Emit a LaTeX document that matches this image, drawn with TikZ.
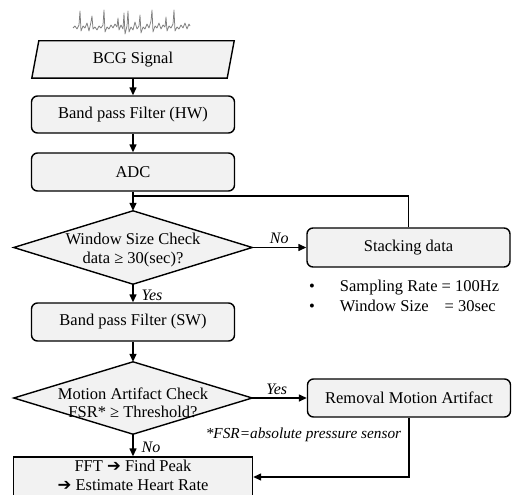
\documentclass[tikz,border=0pt]{standalone}
\usepackage{fontspec}
\setmainfont{Liberation Serif}
\newfontfamily\arrowfont{DejaVu Sans}
\usetikzlibrary{arrows.meta,backgrounds,calc}
\definecolor{boxgray}{HTML}{F2F2F2}
\definecolor{wavegray}{HTML}{7F7F7F}
\begin{document}
\begin{tikzpicture}[x=1pt,y=-1pt,
  every node/.style={font=\fontsize{16.5}{16}\selectfont},
  box/.style={draw=black, line width=1.4pt, fill=boxgray, rounded corners=6pt,
    minimum width=203pt, minimum height=38pt, inner sep=0pt},
  shapetext/.style={inner sep=0pt, align=center},
  dtext/.style={inner sep=0pt, align=center, font=\fontsize{16.5}{18.5}\selectfont},
  shapeline/.style={draw=black, line width=1.4pt, fill=boxgray, line join=miter},
  conn/.style={draw=black, line width=1.4pt},
  arr/.style={conn, -{Triangle[length=8pt,width=7pt]}},
  lbl/.style={font=\fontsize{16}{16}\selectfont\itshape, inner sep=0pt},
]
\clip (0,0) rectangle (514,495);

% waveform
\draw[wavegray, line width=0.75pt, line join=round]
 (73,28) -- (75,26) -- (77,29) -- (79,25) -- (80,11) -- (81,31) -- (83,26) -- (85,28) -- (87,23) -- (89,31) -- (91,22) -- (92,16) -- (93,29) -- (95,27) -- (97,30) -- (99,26) -- (101,28) -- (103,25) -- (104,10) -- (105,32) -- (107,27) -- (109,29) -- (111,25) -- (113,28) -- (115,24) -- (117,27) -- (118,18) -- (119,30) -- (121,25) -- (123,29) -- (124,13) -- (125,34) -- (127,26) -- (128,11) -- (129,32) -- (131,27) -- (133,30) -- (135,22) -- (137,29) -- (139,26) -- (140,15) -- (141,33) -- (143,27) -- (145,29) -- (147,24) -- (149,28) -- (151,21) -- (152,10) -- (153,32) -- (155,26) -- (157,28) -- (159,23) -- (161,29) -- (163,25) -- (165,27) -- (166,17) -- (167,31) -- (169,26) -- (171,28) -- (173,24) -- (174,10) -- (175,31) -- (177,27) -- (179,29) -- (181,25) -- (183,28) -- (185,23) -- (187,29) -- (189,24) -- (190,26);

% BCG signal (parallelogram)
\node[shapetext, minimum width=195pt, minimum height=37pt] (bcg) at (133,59.5) {BCG Signal};
\begin{scope}[on background layer]
\draw[shapeline] ([xshift=3.5pt]bcg.north west) -- ([xshift=3.5pt]bcg.north east)
  -- ([xshift=-3.5pt]bcg.south east) -- ([xshift=-3.5pt]bcg.south west) -- cycle;
\end{scope}

\node[box, minimum height=37pt] (hw) at (133,114.5) {Band pass Filter (HW)};
\node[box] (adc) at (133,172) {ADC};

% diamond 1
\node[inner sep=0pt, minimum width=238pt, minimum height=73pt] (d1) at (133,247.5) {};
\draw[shapeline] (d1.north) -- (d1.east) -- (d1.south) -- (d1.west) -- cycle;
\node[dtext] (d1t) at (133,250) {Window Size Check\\data ≥ 30(sec)?};

\node[box, minimum height=39pt] (stack) at (408.5,247.5) {Stacking data};

\node[anchor=west, inner sep=0pt] (notes) at (309,297)
  {\fontsize{16.5}{20}\selectfont\begin{tabular}{@{}l@{\hspace{25pt}}l@{}}
   •&Sampling Rate = 100Hz\\
   •&Window Size\hspace{16pt}= 30sec\end{tabular}};

\node[box] (sw) at (133,322) {Band pass Filter (SW)};

% diamond 2
\node[inner sep=0pt, minimum width=238pt, minimum height=72pt] (d2) at (133,398) {};
\draw[shapeline] (d2.north) -- (d2.east) -- (d2.south) -- (d2.west) -- cycle;
\node[dtext] (d2t) at (133,403) {Motion Artifact Check\\FSR* ≥ Threshold?};

\node[box] (rem) at (409,398) {Removal Motion Artifact};

\node[inner sep=0pt, font=\fontsize{15.3}{16}\selectfont\itshape] (note) at (303.5,435)
  {*FSR=absolute pressure sensor};

\node[draw=black, line width=1.4pt, fill=boxgray, minimum width=239pt, minimum height=40pt,
  inner sep=0pt] (fft) at (133,477) {};
\node[inner sep=0pt, align=center, font=\fontsize{16.5}{19}\selectfont] (fftt) at (133,475.5)
  {FFT {\arrowfont ➔} Find Peak\\{\arrowfont ➔} Estimate Heart Rate};

% connectors
\coordinate (j) at (133,196);
\draw[arr] (bcg) -- (hw);
\draw[arr] (hw) -- (adc);
\draw[conn] (adc.south) -- (j);
\draw[arr] (j) -- (d1.north);
\draw[conn] (stack.north) |- (j);
\draw[arr] (d1.east) -- node[lbl, above=3pt, pos=0.5] (no1) {No} (stack.west);
\draw[arr] (d1.south) -- node[lbl, right=8pt, pos=0.6] (yes1) {Yes} (sw.north);
\draw[arr] (sw.south) -- (d2.north);
\draw[arr] (d2.east) -- node[lbl, above=3pt, pos=0.45] (yes2) {Yes} (rem.west);
\draw[arr] (d2.south) -- node[lbl, right=8pt, pos=0.6] (no2) {No} (fft.north);
\draw[arr] (rem.south) |- (fft.east);
\end{tikzpicture}
\end{document}
